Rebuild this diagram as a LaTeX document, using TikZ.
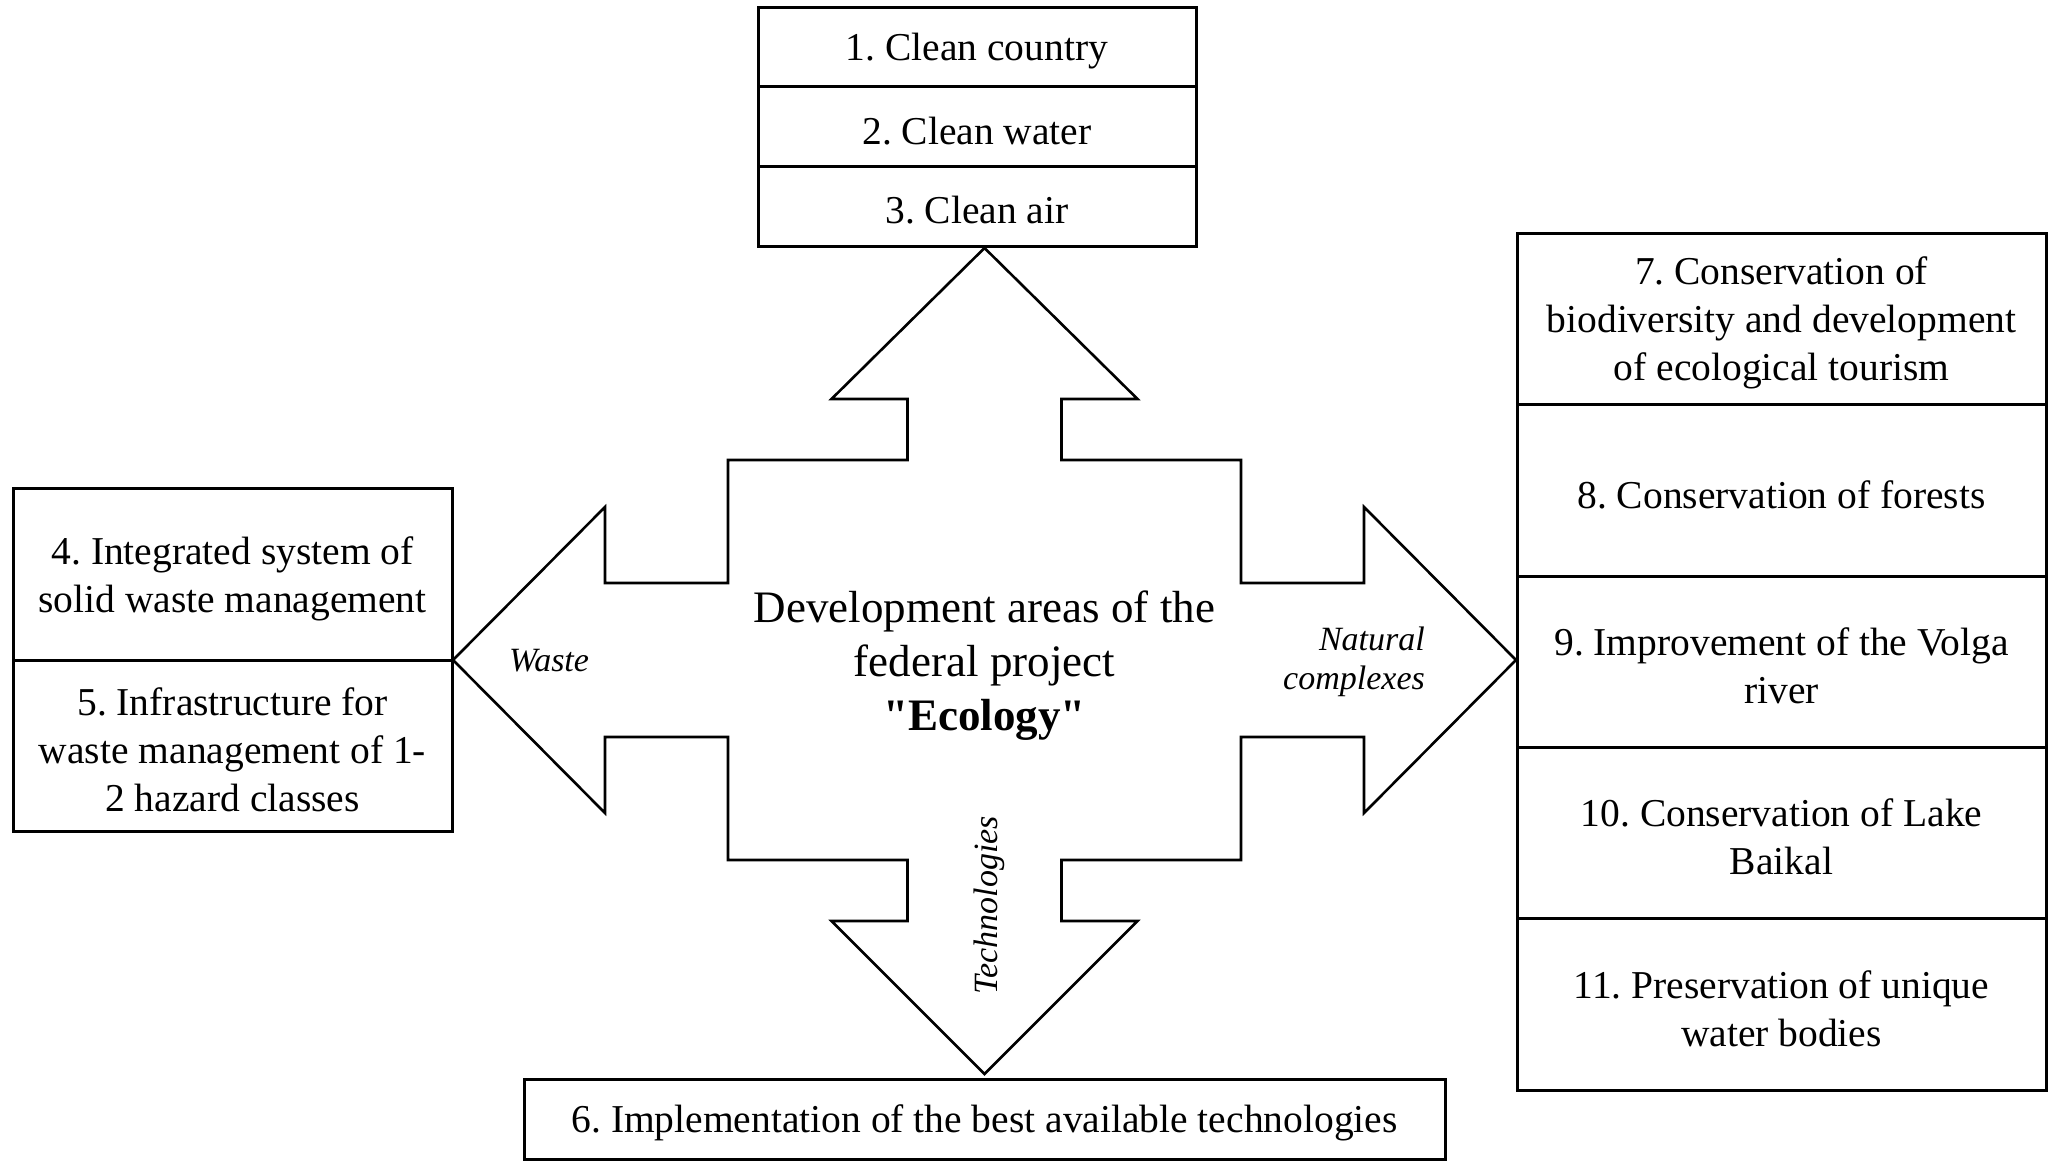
\documentclass[tikz,border=0pt]{standalone}
\usepackage{fontspec}
\setmainfont{Liberation Serif}[Ligatures=TeXOff]
\frenchspacing
\tikzset{
  boxtext/.style={inner sep=0pt, align=center, yshift=-4pt,
    font={\fontsize{39.5}{48}\selectfont}},
  boxtxt/.style={draw, line width=3pt, rectangle, inner sep=0pt,
    label={[boxtext]center:{#1}}},
  topbox/.style={boxtxt={#1}, minimum width=438, minimum height=79.7},
  sidebox/.style={boxtxt={#1}, minimum width=439, minimum height=171.5},
  rightbox/.style={boxtxt={#1}, minimum width=529, minimum height=171.4},
  lbl/.style={inner sep=0pt, font={\fontsize{34}{39}\selectfont\itshape}},
  cross/.style={draw, line width=2.6pt, line join=miter}
}
\begin{document}
\begin{tikzpicture}[x=1pt, y=-1pt]
\useasboundingbox (0,0) rectangle (2049,1161);
% central cross-shaped arrow figure
\draw[cross] (984.5,248) -- (1137.5,399) -- (1061.5,399) -- (1061.5,460) -- (1241,460)
  -- (1241,583) -- (1364,583) -- (1364,507) -- (1516,660) -- (1364,813) -- (1364,737)
  -- (1241,737) -- (1241,860) -- (1061.5,860) -- (1061.5,921) -- (1137.5,921)
  -- (984.5,1074) -- (831.5,921) -- (907.5,921) -- (907.5,860) -- (728,860)
  -- (728,737) -- (605,737) -- (605,813) -- (453,660) -- (605,507) -- (605,583)
  -- (728,583) -- (728,460) -- (907.5,460) -- (907.5,399) -- (831.5,399) -- cycle;
% centre text
\node[align=center, inner sep=0pt, font={\fontsize{45}{54}\selectfont}] (centre) at (984.5,666)
  {Development areas of the\\federal project\\\textbf{"Ecology"}};
% arrow labels
\node[lbl] (waste) at (549,661) {Waste};
\node[lbl, anchor=east, align=right] (natural) at (1425,662) {Natural\\complexes};
\node[lbl, rotate=90] (tech) at (989,905) {Technologies};
% top boxes
\node[topbox={1. Clean country}] (b1) at (977,47) {};
\node[topbox={2. Clean water}] (b2) at (977,126.7) {};
\node[topbox={3. Clean air}] (b3) at (977,206.4) {};
% left boxes
\node[sidebox={4. Integrated system of\\solid waste management}] (b4) at (232.5,574.5) {};
\node[sidebox={5. Infrastructure for\\waste management of 1-\\2 hazard classes}] (b5) at (232.5,746) {};
% bottom box
\node[boxtxt={6. Implementation of the best available technologies}, minimum width=921, minimum height=80] (b6) at (984.5,1119) {};
% right boxes
\node[rightbox={7. Conservation of\\biodiversity and development\\of ecological tourism}] (b7) at (1781.5,319) {};
\node[rightbox={8. Conservation of forests}] (b8) at (1781.5,490.4) {};
\node[rightbox={9. Improvement of the Volga\\river}] (b9) at (1781.5,661.8) {};
\node[rightbox={10. Conservation of Lake\\Baikal}] (b10) at (1781.5,833.2) {};
\node[rightbox={11. Preservation of unique\\water bodies}] (b11) at (1781.5,1004.6) {};
\end{tikzpicture}
\end{document}
